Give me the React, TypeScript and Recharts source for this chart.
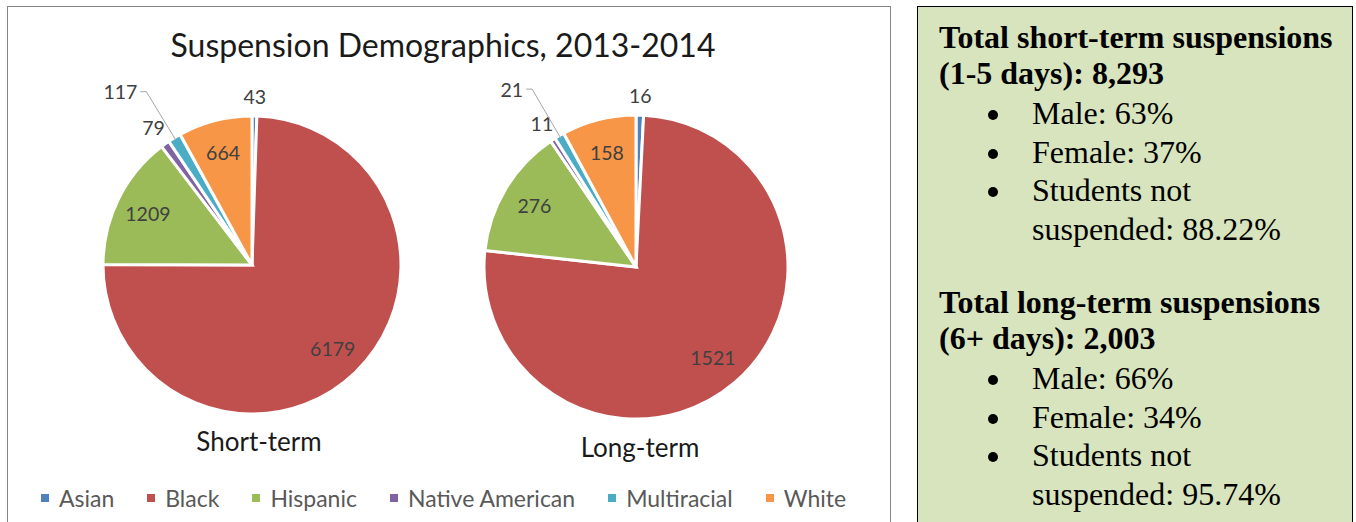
import React from "react";
import { PieChart, Pie, Cell, Legend } from "recharts";

const categories = ["Asian", "Black", "Hispanic", "Native American", "Multiracial", "White"];
const shortTerm = [43, 6179, 1209, 79, 117, 664];
const longTerm = [16, 1521, 276, 11, 21, 158];
const COLORS = ["#4f81bd", "#c0504d", "#9bbb59", "#8064a2", "#4bacc6", "#f79646"];

const FONT = "Lato, 'Open Sans', sans-serif";
const SERIF = "'Liberation Serif', 'DejaVu Serif', serif";
const RAD = Math.PI / 180;

const toData = (values: number[]) => categories.map((name, i) => ({ name, value: values[i] }));

// small slices get their label outside; two small ones in a row -> push the 2nd out with a leader line
const makeLabel = (values: number[]) => (p: any) => {
  const { cx, cy, midAngle, outerRadius, index, value } = p;
  const total = values.reduce((a, b) => a + b, 0);
  const small = (i: number) => values[(i + values.length) % values.length] / total < 0.03;
  const cos = Math.cos(-midAngle * RAD);
  const sin = Math.sin(-midAngle * RAD);
  const style = { fontSize: 19.5, fill: "#404040", fontFamily: FONT };

  if (!small(index)) {
    const r = outerRadius * 0.78;
    return (
      <text x={cx + r * cos} y={cy + r * sin} textAnchor="middle" dominantBaseline="central" style={style}>
        {value}
      </text>
    );
  }
  if (!small(index - 1)) {
    const r = outerRadius + 20;
    return (
      <text x={cx + r * cos} y={cy + r * sin} textAnchor="middle" dominantBaseline="central" style={style}>
        {value}
      </text>
    );
  }
  const x0 = cx + (outerRadius - 3) * cos, y0 = cy + (outerRadius - 3) * sin;
  const x1 = cx + (outerRadius + 54) * cos, y1 = cy + (outerRadius + 54) * sin;
  const x2 = x1 - 6;
  return (
    <g>
      <polyline points={`${x0},${y0} ${x1},${y1} ${x2},${y1}`} fill="none" stroke="#a6a6a6" strokeWidth={1} />
      <text x={x2 - 3} y={y1} textAnchor="end" dominantBaseline="central" style={style}>
        {value}
      </text>
    </g>
  );
};

const LegendRow = () => (
  <div style={{ display: "flex", justifyContent: "center", alignItems: "center", gap: 33, fontFamily: FONT, fontSize: 23, color: "#595959", paddingRight: 8 }}>
    {categories.map((c, i) => (
      <div key={c} style={{ display: "flex", alignItems: "center" }}>
        <span style={{ width: 8, height: 8, background: COLORS[i], marginRight: 10, display: "inline-block" }} />
        <span>{c}</span>
      </div>
    ))}
  </div>
);

const bulletRow = (text: React.ReactNode) => (
  <div style={{ display: "flex", paddingLeft: 49, lineHeight: "38.5px" }}>
    <span style={{ width: 44, flexShrink: 0, display: "flex", alignItems: "flex-start", paddingTop: 16 }}>
      <span style={{ width: 10, height: 10, borderRadius: "50%", background: "#000", display: "inline-block" }} />
    </span>
    <span>{text}</span>
  </div>
);

const subtitle = { position: "absolute" as const, width: 200, textAlign: "center" as const, whiteSpace: "nowrap" as const, fontFamily: FONT, fontSize: 26, color: "#1a1a1a", lineHeight: "32px" };

export default function App() {
  return (
    <div style={{ position: "absolute", left: 0, top: 0, width: 1356, height: 522, overflow: "hidden", background: "#fff" }}>
      <div style={{ position: "absolute", left: 7, top: 6, width: 882, height: 530, border: "1px solid #868686" }} />

      <div style={{ position: "absolute", left: 0, top: 25, width: 886, textAlign: "center", fontFamily: FONT, fontSize: 32, color: "#1a1a1a", lineHeight: "40px" }}>
        Suspension Demographics, 2013-2014
      </div>

      <PieChart width={900} height={522} margin={{ top: 0, right: 0, bottom: 0, left: 0 }} style={{ position: "absolute", left: 0, top: 0 }}>
        <Pie
          data={toData(shortTerm)}
          dataKey="value"
          cx={252}
          cy={265}
          outerRadius={149}
          startAngle={90}
          endAngle={-270}
          stroke="#fff"
          strokeWidth={3}
          label={makeLabel(shortTerm)}
          labelLine={false}
          isAnimationActive={false}
        >
          {shortTerm.map((_, i) => <Cell key={i} fill={COLORS[i]} />)}
        </Pie>
        <Pie
          data={toData(longTerm)}
          dataKey="value"
          cx={636}
          cy={267}
          outerRadius={152}
          startAngle={90}
          endAngle={-270}
          stroke="#fff"
          strokeWidth={3}
          label={makeLabel(longTerm)}
          labelLine={false}
          isAnimationActive={false}
        >
          {longTerm.map((_, i) => <Cell key={i} fill={COLORS[i]} />)}
        </Pie>
        <Legend verticalAlign="bottom" wrapperStyle={{ bottom: 10, left: 0, width: 895 }} content={() => <LegendRow />} />
      </PieChart>

      <div style={{ ...subtitle, left: 159, top: 425 }}>Short-term</div>
      <div style={{ ...subtitle, left: 540, top: 431 }}>Long-term</div>

      <div
        style={{
          position: "absolute", left: 917, top: 6, width: 436, height: 530, background: "#d7e4bd",
          border: "1.5px solid #000", fontFamily: SERIF, fontSize: 32, color: "#000", boxSizing: "border-box",
          paddingLeft: 21, paddingTop: 12,
        }}
      >
        <div style={{ fontWeight: "bold", fontSize: 32, lineHeight: "36px", whiteSpace: "nowrap" }}>
          Total short-term suspensions<br />(1-5 days): 8,293
        </div>
        <div style={{ marginTop: 3 }}>
          {bulletRow("Male: 63%")}
          {bulletRow("Female: 37%")}
          {bulletRow(<>Students not<br />suspended: 88.22%</>)}
        </div>
        <div style={{ fontWeight: "bold", fontSize: 32, lineHeight: "36px", marginTop: 36, whiteSpace: "nowrap" }}>
          Total long-term suspensions<br />(6+ days): 2,003
        </div>
        <div style={{ marginTop: 3 }}>
          {bulletRow("Male: 66%")}
          {bulletRow("Female: 34%")}
          {bulletRow(<>Students not<br />suspended: 95.74%</>)}
        </div>
      </div>
    </div>
  );
}
